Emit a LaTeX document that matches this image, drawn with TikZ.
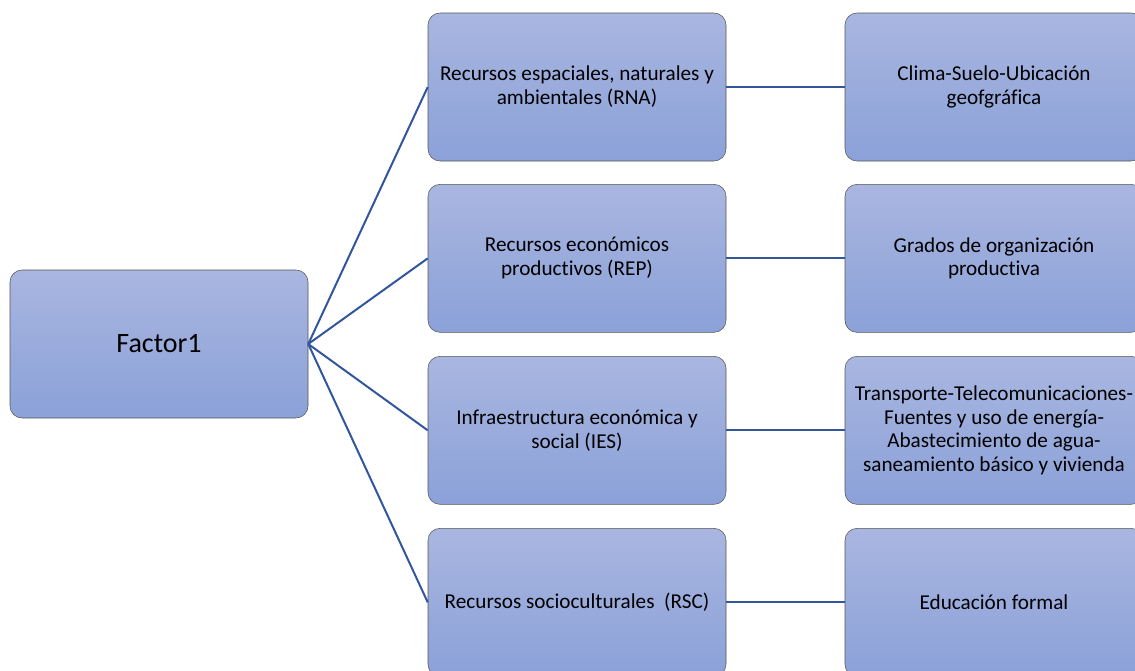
\documentclass[tikz,border=0pt]{standalone}
\usepackage{fontspec}
\setmainfont[Ligatures=NoCommon]{Carlito}
\usetikzlibrary{positioning}
\definecolor{boxtop}{RGB}{169,182,224}
\definecolor{boxbottom}{RGB}{139,161,216}
\definecolor{boxline}{RGB}{85,85,85}
\definecolor{linkblue}{RGB}{49,86,156}

\begin{document}
\begin{tikzpicture}[x=0.75pt, y=0.75pt, on grid, semithick]
  \tikzstyle{factorBox} = [draw=boxline, thin, rounded corners=9pt, top color=boxtop, bottom color=boxbottom, minimum width=223.5pt, minimum height=111pt, align=center, font={\fontsize{15.9}{17.9}\selectfont}];
  \tikzstyle{linkEdge} = [linkblue, line width=1.5pt];

  \useasboundingbox (0,0) rectangle (1135,-671);

  \node[factorBox, font={\fontsize{21}{25}\selectfont}](factor) at (159,-344) {Factor1};
  \node[factorBox](rna) at (577,-87) {Recursos espaciales, naturales y\\ambientales (RNA)};
  \node[factorBox](rep) [below=128.5pt of rna] {Recursos económicos\\productivos (REP)};
  \node[factorBox](ies) [below=129pt of rep] {Infraestructura económica y\\social (IES)};
  \node[factorBox](rsc) [below=129pt of ies] {Recursos socioculturales~~(RSC)};

  \node[factorBox](clima) [right=312.75pt of rna] {Clima-Suelo-Ubicación\\geofgráfica};
  \node[factorBox](grados) [right=312.75pt of rep] {Grados de organización\\productiva};
  \node[factorBox](transp) [right=312.75pt of ies] {Transporte-Telecomunicaciones-\\Fuentes y uso de energía-\\Abastecimiento de agua-\\saneamiento básico y vivienda};
  \node[factorBox](edu) [right=312.75pt of rsc] {Educación formal};

  \path[linkEdge]
  (factor.east) edge (rna.west)
  edge (rep.west)
  edge (ies.west)
  edge (rsc.west)
  (rna) edge (clima)
  (rep) edge (grados)
  (ies) edge (transp)
  (rsc) edge (edu);
\end{tikzpicture}
\end{document}
